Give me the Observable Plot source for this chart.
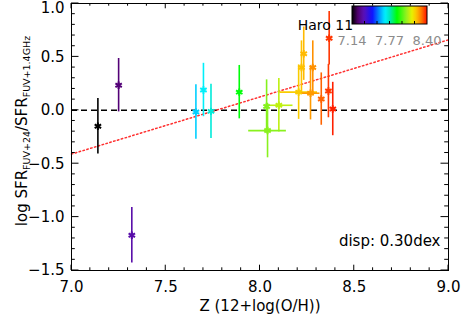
<!DOCTYPE html>
<html>
<head>
<meta charset="utf-8">
<script src="https://cdn.jsdelivr.net/npm/d3@7"></script>
<script src="https://cdn.jsdelivr.net/npm/@observablehq/plot@0.6"></script>
<style>
  body { margin: 0; background: #fff; }
  #chart { position: relative; width: 463px; height: 319px; }
</style>
</head>
<body>
<div id="chart"></div>
<script>
// ---- data ----
const metallicity = [7.14, 7.25, 7.32, 7.66, 7.70, 7.74, 7.89, 8.035, 8.04, 8.10, 8.205, 8.22, 8.232, 8.28, 8.268, 8.325, 8.367, 8.363, 8.386];
const logRatio    = [-0.15, 0.235, -1.17, -0.015, 0.19, -0.01, 0.17, 0.035, -0.19, 0.047, 0.17, 0.40, 0.53, 0.40, 0.16, 0.105, 0.675, 0.18, 0.012];
const ratioErr    = [0.26, 0.25, 0.26, 0.255, 0.25, 0.255, 0.25, 0.25, 0.255, 0.25, 0.255, 0.25, 0.25, 0.25, 0.25, 0.245, 0.25, 0.25, 0.25];
const metalErr    = [0, 0, 0, 0, 0, 0, 0, 0, 0.10, 0.075, 0.10, 0, 0, 0, 0.05, 0, 0, 0, 0];
const haroIndex = 12;
const fitZ = [7.0, 9.0];
const fitRatio = [-0.41, 0.66];
const xMajor = [7.0, 7.5, 8.0, 8.5, 9.0];
const xMinor = d3.range(0, 21).map(i => 7 + i * 0.1);
const yMajor = [-1.5, -1.0, -0.5, 0.0, 0.5, 1.0];
const yMinor = d3.range(0, 26).map(i => -1.5 + i * 0.1);
const colorbarTicks = [7.14, 7.77, 8.40];
const xTitle = "Z (12+log(O/H))";
const dispLabel = "disp: 0.30dex";

// rainbow palette (IDL-like)
const paletteT = [0, 0.08, 0.16, 0.27, 0.36, 0.44, 0.50, 0.60, 0.72, 0.80, 0.86, 0.92, 1.0];
const paletteC = ["#000000", "#520070", "#5a10b8", "#1010ff", "#0090ff", "#00f0ff", "#00e8c0", "#00ff00", "#90f020", "#e8f000", "#ffc000", "#ff8000", "#ff1000"];
const paletteScale = d3.scaleLinear().domain(paletteT).range(paletteC).clamp(true);
const ramp = t => paletteScale(t);

const data = metallicity.map((z, i) => ({z, r: logRatio[i], e: ratioErr[i], ze: metalErr[i]}));
const fit = fitZ.map((z, i) => ({z, r: fitRatio[i]}));

const plot = Plot.plot({
  width: 463, height: 319,
  marginLeft: 71, marginRight: 15, marginTop: 3, marginBottom: 49,
  style: {fontFamily: "DejaVu Sans", fontSize: "15px", background: "white", color: "black", overflow: "visible"},
  x: {domain: [7, 9], label: null},
  y: {domain: [-1.5, 1.0], label: null},
  color: {type: "linear", domain: [7.14, 8.40], interpolate: ramp},
  marks: [
    Plot.ruleY([0], {stroke: "black", strokeDasharray: "6,4", strokeWidth: 1.5}),
    Plot.line(fit, {x: "z", y: "r", stroke: "#ff3030", strokeDasharray: "1.5,2.5", strokeWidth: 1.5}),
    Plot.ruleX(data, {x: "z", y1: d => d.r - d.e, y2: d => d.r + d.e, stroke: "z", strokeWidth: 1.6}),
    Plot.ruleY(data.filter(d => d.ze > 0), {y: "r", x1: d => d.z - d.ze, x2: d => d.z + d.ze, stroke: "z", strokeWidth: 1.6}),
    Plot.dot(data, {x: "z", y: "r", stroke: "z", symbol: "asterisk", r: 3.5, strokeWidth: 2}),
    Plot.frame({stroke: "black"}),
    Plot.axisX({ticks: xMajor, anchor: "bottom", tickSize: 0, tickPadding: 11, tickFormat: ".1f", label: null, fontSize: 15}),
    Plot.axisY({ticks: yMajor.slice(0, -1), anchor: "left", tickSize: 0, tickPadding: 7, tickFormat: ".1f", label: null, fontSize: 15}),
    Plot.axisY({ticks: yMajor.slice(-1), anchor: "left", tickSize: 0, tickPadding: 7, dy: 5, tickFormat: ".1f", label: null, fontSize: 15}),
    Plot.text([xTitle], {frameAnchor: "bottom", lineAnchor: "middle", dy: 36, fontSize: 15, fill: "black"}),
    Plot.text([data[haroIndex]], {x: "z", y: "r", text: () => "Haro 11", textAnchor: "start", dx: -6, dy: -28, fontSize: 14, fill: "black"}),
    Plot.text([dispLabel], {frameAnchor: "bottom-right", textAnchor: "end", lineAnchor: "bottom", dx: -8, dy: -25, fontSize: 15, fill: "black"})
  ]
});
document.getElementById("chart").appendChild(plot);

const svg = d3.select(plot);
const xs = plot.scale("x"), ys = plot.scale("y");
const [fx0, fx1] = xs.range;
const [fy1, fy0] = ys.range; // bottom, top

// inward ticks on all four sides (IDL style)
const tg = svg.append("g").attr("stroke", "black").attr("stroke-width", 1);
const isMajor = (v, majors) => majors.some(m => Math.abs(m - v) < 1e-6);
xMinor.forEach(v => {
  const px = xs.apply(v), len = isMajor(v, xMajor) ? 5.3 : 2.7;
  tg.append("line").attr("x1", px).attr("x2", px).attr("y1", fy1).attr("y2", fy1 - len);
  tg.append("line").attr("x1", px).attr("x2", px).attr("y1", fy0).attr("y2", fy0 + len);
});
yMinor.forEach(v => {
  const py = ys.apply(v), len = isMajor(v, yMajor) ? 7.5 : 3.8;
  tg.append("line").attr("x1", fx0).attr("x2", fx0 + len).attr("y1", py).attr("y2", py);
  tg.append("line").attr("x1", fx1).attr("x2", fx1 - len).attr("y1", py).attr("y2", py);
});

// y-axis title with subscripts
const yt = svg.append("text")
  .attr("transform", "translate(27,131) rotate(-90)")
  .attr("text-anchor", "middle")
  .attr("font-family", "DejaVu Sans")
  .attr("font-size", 15)
  .attr("fill", "black");
yt.append("tspan").text("log SFR");
yt.append("tspan").attr("font-size", 9.5).attr("dy", 3).text("FUV+24");
yt.append("tspan").attr("dy", -3).text("/SFR");
yt.append("tspan").attr("font-size", 9.5).attr("dy", 3).text("FUV+1.4GHz");

// colorbar
const cb = {x: 352, y: 6, w: 75, h: 18};
const defs = svg.append("defs");
const grad = defs.append("linearGradient").attr("id", "cbgrad").attr("x1", "0%").attr("x2", "100%");
d3.range(0, 41).forEach(i => {
  grad.append("stop").attr("offset", (i / 40 * 100) + "%").attr("stop-color", ramp(i / 40));
});
const g = svg.append("g");
g.append("rect").attr("x", cb.x).attr("y", cb.y).attr("width", cb.w).attr("height", cb.h)
  .attr("fill", "url(#cbgrad)").attr("stroke", "black").attr("stroke-width", 1);
d3.range(1, 6).forEach(i => {
  const px = cb.x + cb.w * i / 6;
  g.append("line").attr("x1", px).attr("x2", px).attr("y1", cb.y + cb.h).attr("y2", cb.y + cb.h - 3).attr("stroke", "black");
});
const cbScale = d3.scaleLinear().domain([colorbarTicks[0], colorbarTicks[colorbarTicks.length - 1]]).range([cb.x, cb.x + cb.w]);
colorbarTicks.forEach(v => {
  g.append("text").attr("x", cbScale(v)).attr("y", 45).attr("text-anchor", "middle")
    .attr("font-family", "DejaVu Sans").attr("font-size", 13).attr("fill", "#8c8c8c")
    .text(v.toFixed(2));
});
</script>
</body>
</html>
